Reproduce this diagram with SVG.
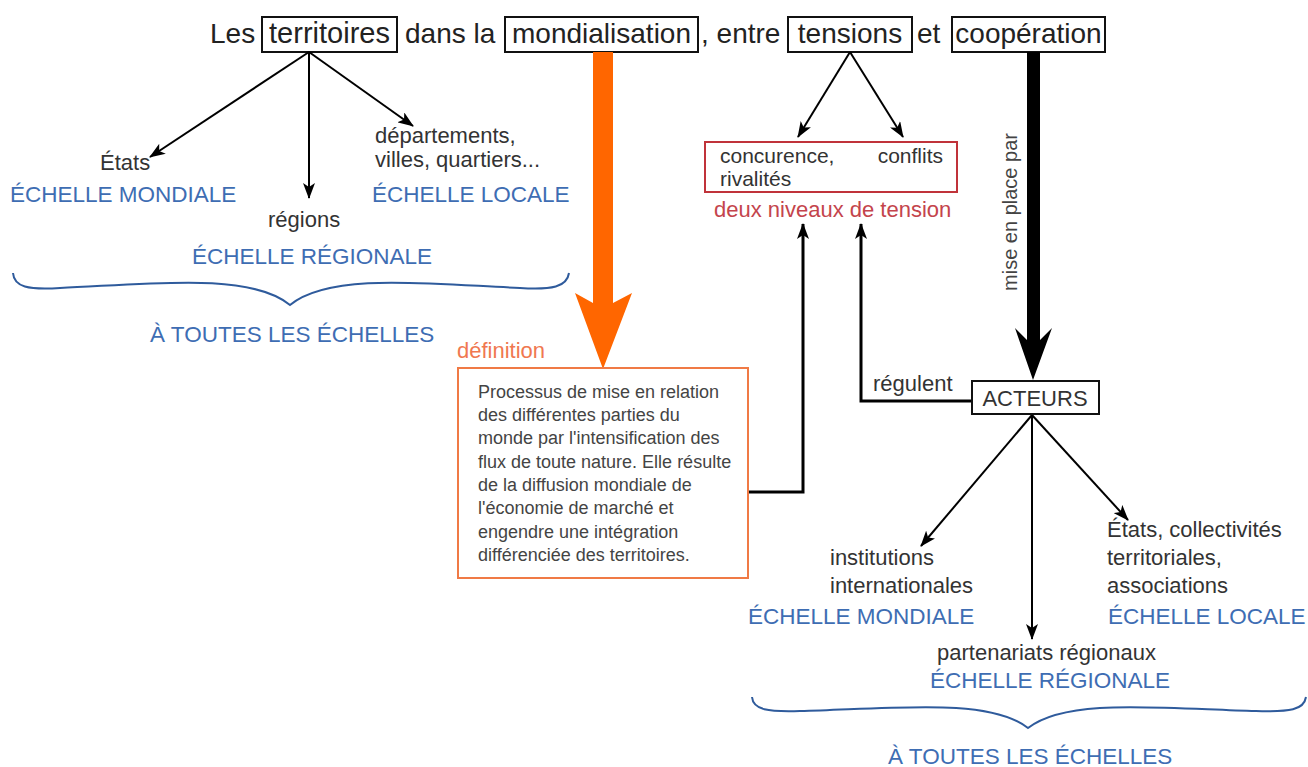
<svg xmlns="http://www.w3.org/2000/svg" width="1308" height="767" viewBox="0 0 1308 767">
<style>
text{font-family:"Liberation Sans",Arial,sans-serif;}
.title{font-size:28px;fill:#222;}
.tc{font-size:28px;fill:#222;text-anchor:middle;}
.lbl{font-size:22px;fill:#333;}
.blue{font-size:22.5px;fill:#3e6db3;}
.def{font-size:18px;fill:#444;}
.box{fill:none;stroke:#111;stroke-width:2;}
.thin{fill:none;stroke:#000;stroke-width:2;}
.thick{fill:none;stroke:#000;stroke-width:3;}
.brace{fill:none;stroke:#2f5b9c;stroke-width:2;}
</style>
<defs>
<marker id="ah" viewBox="0 0 16 12" refX="15" refY="6" markerWidth="16" markerHeight="12" markerUnits="userSpaceOnUse" orient="auto">
<path d="M0,0 L16,6 L0,12 L4,6 Z" fill="#000"/>
</marker>
</defs>
<rect width="1308" height="767" fill="#fff"/>

<g id="title">
<text class="title" x="210" y="43">Les</text>
<rect class="box" x="262" y="17" width="135" height="35"/>
<text class="tc" x="329.5" y="43" style="font-size:29px">territoires</text>
<text class="title" x="405" y="43">dans la</text>
<rect class="box" x="505" y="17" width="193" height="35"/>
<text class="tc" x="601.5" y="43">mondialisation</text>
<text class="title" x="701" y="43">, entre</text>
<rect class="box" x="788" y="17" width="124" height="35"/>
<text class="tc" x="850" y="43">tensions</text>
<text class="title" x="917" y="43">et</text>
<rect class="box" x="952" y="17" width="153" height="35"/>
<text class="tc" x="1028.5" y="43">coopération</text>
</g>

<g id="connectors">
<line class="thin" x1="309" y1="52" x2="150" y2="157" marker-end="url(#ah)"/>
<line class="thin" x1="309" y1="52" x2="309" y2="198" marker-end="url(#ah)"/>
<line class="thin" x1="309" y1="52" x2="413" y2="126" marker-end="url(#ah)"/>
<line class="thin" x1="850" y1="52" x2="798" y2="137" marker-end="url(#ah)"/>
<line class="thin" x1="850" y1="52" x2="903" y2="137" marker-end="url(#ah)"/>
<polygon points="593,52 613,52 613,303 632,293 603,369 575,293 593,303" fill="#ff6600"/>
<polygon points="1027,52 1040,52 1040,340 1052,328 1033,380 1015,328 1027,340" fill="#000"/>
<polyline class="thick" points="748,492 803,492 803,224" marker-end="url(#ah)"/>
<polyline class="thick" points="972,401 861,401 861,224" marker-end="url(#ah)"/>
<line class="thin" x1="1032" y1="415" x2="921" y2="546" marker-end="url(#ah)"/>
<line class="thin" x1="1032" y1="415" x2="1032" y2="639" marker-end="url(#ah)"/>
<line class="thin" x1="1032" y1="415" x2="1128" y2="520" marker-end="url(#ah)"/>
<text x="1017" y="212" transform="rotate(-90 1017 212)" text-anchor="middle" style="font-size:20px;fill:#444">mise en place par</text>
</g>

<g id="territoires-branches">
<text class="lbl" x="100" y="170">États</text>
<text class="blue" x="10" y="202">ÉCHELLE MONDIALE</text>
<text class="lbl" x="268" y="227">régions</text>
<text class="lbl" x="375" y="143">départements,</text>
<text class="lbl" x="375" y="167">villes, quartiers...</text>
<text class="blue" x="372" y="202">ÉCHELLE LOCALE</text>
<text class="blue" x="192" y="264">ÉCHELLE RÉGIONALE</text>
<path class="brace" d="M13,273 C14,287 28,290 60,288 C150,284 250,272 290,305 C330,272 430,284 520,288 C552,290 567,287 569,273"/>
<text class="blue" x="150" y="342">À TOUTES LES ÉCHELLES</text>
</g>

<g id="definition">
<text x="457" y="358" style="font-size:22px;fill:#f07850">définition</text>
<rect x="458" y="368" width="290" height="210" fill="#fff" stroke="#f07a45" stroke-width="2"/>
<text class="def" x="478" y="398">Processus de mise en relation</text>
<text class="def" x="478" y="421">des différentes parties du</text>
<text class="def" x="478" y="444">monde par l'intensification des</text>
<text class="def" x="478" y="468">flux de toute nature. Elle résulte</text>
<text class="def" x="478" y="491">de la diffusion mondiale de</text>
<text class="def" x="478" y="514">l'économie de marché et</text>
<text class="def" x="478" y="538">engendre une intégration</text>
<text class="def" x="478" y="561">différenciée des territoires.</text>
</g>

<g id="tensions">
<rect x="705" y="142" width="252" height="50" fill="none" stroke="#c0333a" stroke-width="2"/>
<text class="lbl" x="720" y="163" style="font-size:21px">concurence,</text>
<text class="lbl" x="943" y="163" text-anchor="end" style="font-size:21px">conflits</text>
<text class="lbl" x="720" y="186" style="font-size:21px">rivalités</text>
<text x="714" y="217" style="font-size:22px;fill:#c4444c">deux niveaux de tension</text>
</g>

<g id="acteurs">
<text class="lbl" x="873" y="391">régulent</text>
<rect class="box" x="972" y="381" width="127" height="33" fill="#fff"/>
<text class="lbl" x="1035" y="406" text-anchor="middle">ACTEURS</text>
</g>

<g id="acteurs-branches">
<text class="lbl" x="830" y="565">institutions</text>
<text class="lbl" x="830" y="593">internationales</text>
<text class="blue" x="748" y="624">ÉCHELLE MONDIALE</text>
<text class="lbl" x="1107" y="537">États, collectivités</text>
<text class="lbl" x="1107" y="565">territoriales,</text>
<text class="lbl" x="1107" y="593">associations</text>
<text class="blue" x="1108" y="624">ÉCHELLE LOCALE</text>
<text class="lbl" x="937" y="660">partenariats régionaux</text>
<text class="blue" x="930" y="688">ÉCHELLE RÉGIONALE</text>
<path class="brace" d="M752,697 C753,710 768,712 800,711 C900,708 990,698 1028,728 C1066,698 1156,708 1256,711 C1290,712 1304,710 1306,697"/>
<text class="blue" x="888" y="764">À TOUTES LES ÉCHELLES</text>
</g>
</svg>
